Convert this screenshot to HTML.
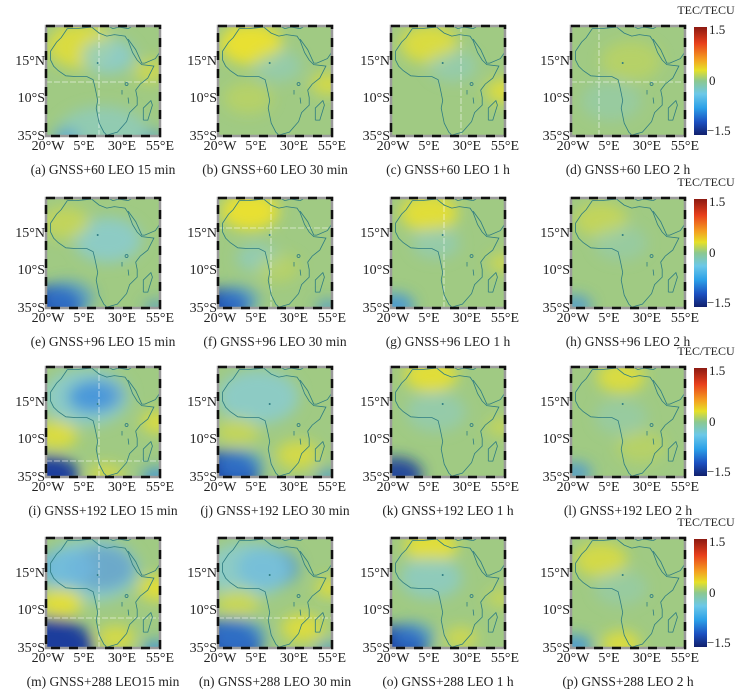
<!DOCTYPE html>
<html><head><meta charset="utf-8"><style>
html,body{margin:0;padding:0;background:#fff;}
svg text{font-family:"Liberation Serif",serif;fill:#222;}
</style></head><body>
<svg id="s" width="752" height="694" xmlns="http://www.w3.org/2000/svg">
<defs>
<linearGradient id="cb" x1="0" y1="0" x2="0" y2="1">
<stop offset="0" stop-color="#8c1a12"/><stop offset="0.15" stop-color="#e8401c"/>
<stop offset="0.3" stop-color="#f4a020"/><stop offset="0.4" stop-color="#e6e028"/>
<stop offset="0.5" stop-color="#8cc890"/><stop offset="0.62" stop-color="#6cc8e8"/>
<stop offset="0.75" stop-color="#2ca0e8"/><stop offset="0.88" stop-color="#1c50c0"/>
<stop offset="1" stop-color="#12206c"/></linearGradient>
<filter id="bl" x="-50%" y="-50%" width="200%" height="200%"><feGaussianBlur stdDeviation="7"/></filter>
</defs>
</svg>
<script>
var s=document.getElementById('s'),NS='http://www.w3.org/2000/svg';
function el(t,a,p,txt){var e=document.createElementNS(NS,t);for(var k in a)e.setAttribute(k,a[k]);if(txt!=null)e.textContent=txt;(p||s).appendChild(e);return e;}
var cols=[46,218,391,571],rows=[26,198,367,538],W=114,H=110;
function P(lon,lat){return ((lon+20)*1.52).toFixed(1)+','+((37.7-lat)*1.5).toFixed(1);}
var afr=[[-6,36],[-10,30],[-13,27],[-17,21],[-17,15],[-15,11],[-12,8],[-7,4.5],[0,4],[7,4],[11,2],[12,-2],[13,-7],[14,-12],[13,-17],[15,-27],[18,-33],[20,-35],[27,-33],[33,-26],[35,-20],[40,-15],[40,-10],[39,-5],[42,-1],[47,3],[51,11],[43,12],[40,15],[37,20],[34,28],[32,31],[25,32],[20,31],[15,33],[10,37],[0,36],[-6,36]];
var arab=[[34,29],[39,22],[43,13],[45,13],[52,16],[56,22]];
var mad=[[44,-25],[44,-17],[49,-12],[50,-15],[47,-25],[44,-25]];
var eur=[[-9,38],[-6,37],[0,38]];
var eur2=[[20,38],[24,36],[28,37],[34,36],[36,37]];
function poly(a){return a.map(function(p){return P(p[0],p[1]);}).join(' ');}
var Y='#e8e030',Y2='#d8dc40',LB='#84cce0',B='#3a8ee0',DB='#1a3c9c';
var blobs=[
[[35,20,28,Y,.8],[105,45,14,Y,.6],[62,30,22,LB,.7],[57,112,40,LB,.5],[20,112,12,B,.5],[108,112,10,B,.5]],
[[33,18,26,Y,1],[110,58,14,Y,.7],[30,72,20,Y2,.4],[60,40,20,LB,.4]],
[[38,18,24,Y,.8],[114,65,16,Y,.8],[62,40,20,LB,.4]],
[[60,35,25,Y2,.4],[40,75,25,LB,.3]],
[[62,42,28,LB,.7],[5,108,26,DB,1],[22,100,22,B,.6],[20,25,20,Y2,.6],[110,110,10,B,.6]],
[[32,13,24,Y,1],[4,108,22,DB,1],[20,102,18,B,.6],[110,110,10,B,.7],[40,60,18,LB,.5],[60,70,18,Y2,.4]],
[[38,15,24,Y,.9],[4,108,16,B,.8],[112,65,12,Y,.6],[45,45,20,LB,.4]],
[[30,22,22,Y2,.6],[4,108,14,B,.7],[50,45,22,LB,.3]],
[[55,28,20,DB,.7],[40,30,36,LB,.7],[45,30,20,B,.7],[4,108,24,DB,1],[110,110,12,B,.8],[10,68,18,Y,.8],[112,55,14,Y,.8],[60,108,15,Y,.6]],
[[40,30,34,LB,.7],[5,108,30,DB,1],[22,98,20,B,.6],[80,88,18,Y,.7],[20,65,18,Y2,.6],[110,110,10,B,.7]],
[[40,8,22,Y,.9],[5,108,22,DB,.9],[45,45,25,LB,.4],[110,60,12,Y2,.6]],
[[50,10,20,Y,.8],[4,106,14,B,.7],[50,50,22,LB,.3],[70,80,20,Y2,.4]],
[[55,30,28,DB,.8],[20,30,24,B,.8],[45,32,40,LB,.7],[5,108,35,DB,1],[110,112,12,B,.8],[15,65,18,Y,.9],[112,50,16,Y,.9],[70,100,16,Y,.7]],
[[50,30,26,B,.7],[30,32,35,LB,.7],[5,108,32,DB,1],[20,98,24,B,.6],[85,90,18,Y,.8],[20,65,18,Y2,.7],[112,50,12,Y,.8],[110,112,10,B,.7]],
[[40,8,22,Y,.9],[5,108,26,DB,1],[22,98,18,B,.6],[40,40,26,LB,.6],[70,100,14,Y,.6],[110,60,12,Y2,.6]],
[[30,22,22,Y,.7],[50,106,16,Y,.8],[4,108,14,B,.8],[50,50,22,LB,.3]]
];
var caps=['(a) GNSS+60 LEO 15 min','(b) GNSS+60 LEO 30 min','(c) GNSS+60 LEO 1 h','(d) GNSS+60 LEO 2 h',
'(e) GNSS+96 LEO 15 min','(f) GNSS+96 LEO 30 min','(g) GNSS+96 LEO 1 h','(h) GNSS+96 LEO 2 h',
'(i) GNSS+192 LEO 15 min','(j) GNSS+192 LEO 30 min','(k) GNSS+192 LEO 1 h','(l) GNSS+192 LEO 2 h',
'(m) GNSS+288 LEO15 min','(n) GNSS+288 LEO 30 min','(o) GNSS+288 LEO 1 h','(p) GNSS+288 LEO 2 h'];
var grid=[[53,56],[0,0],[70,0],[28,56],[0,0],[53,30],[53,0],[0,0],[53,94],[0,0],[0,0],[0,0],[53,80],[0,80],[0,0],[0,0]];
for(var r=0;r<4;r++)for(var c=0;c<4;c++){
 var i=r*4+c,x0=cols[c],y0=rows[r];
 var cp=el('clipPath',{id:'c'+i});el('rect',{x:0,y:0,width:W,height:H},cp);
 var g=el('g',{transform:'translate('+x0+','+y0+')'});
 var gi=el('g',{'clip-path':'url(#c'+i+')'},g);
 el('rect',{x:0,y:0,width:W,height:H,fill:'#98c888'},gi);
 el('rect',{x:0,y:0,width:W,height:H,fill:'#a8cc80',opacity:.55},gi);
 var gb=el('g',{filter:'url(#bl)'},gi);
 blobs[i].forEach(function(b){el('ellipse',{cx:b[0],cy:b[1],rx:b[2]*1.2,ry:b[2]*0.8,fill:b[3],opacity:b[4]},gb);});
 var gr=grid[i];
 if(gr[0])el('line',{x1:gr[0],y1:0,x2:gr[0],y2:H,stroke:'#fff','stroke-width':.8,'stroke-dasharray':'6,2',opacity:.7},gi);
 if(gr[1])el('line',{x1:0,y1:gr[1],x2:W,y2:gr[1],stroke:'#fff','stroke-width':.8,'stroke-dasharray':'6,2',opacity:.7},gi);
 var st={fill:'none',stroke:'#2e7c82','stroke-width':.8};
 [afr,arab,mad,eur,eur2].forEach(function(a){var o=Object.assign({points:poly(a)},st);el('polyline',o,gi);});
 el('line',Object.assign({x1:(30+20)*1.52,y1:(37.7+5)*1.5,x2:(30+20)*1.52,y2:(37.7+8)*1.5},st),gi);
 el('line',Object.assign({x1:(34+20)*1.52,y1:(37.7+10)*1.5,x2:(34.5+20)*1.52,y2:(37.7+14)*1.5},st),gi);
 el('circle',Object.assign({cx:(33+20)*1.52,cy:(37.7+1)*1.5,r:1.5},st),gi);
 el('circle',{cx:(14+20)*1.52,cy:(37.7-13)*1.5,r:1,fill:'#2e7c82'},gi);
 el('rect',{x:0,y:0,width:W,height:H,fill:'none',stroke:'#999','stroke-width':2.5},g);
 el('rect',{x:0,y:0,width:W,height:H,fill:'none',stroke:'#111','stroke-width':2.5,'stroke-dasharray':'9,9'},g);
 var ty=[[34,'15°N'],[71,'10°S'],[109,'35°S']];
 ty.forEach(function(t){el('text',{x:-1,y:t[0]+5,'font-size':14,'text-anchor':'end'},g,t[1]);});
 [[2,'20°W'],[38,'5°E'],[76,'30°E'],[114,'55°E']].forEach(function(t){el('text',{x:t[0],y:H+14,'font-size':14,'text-anchor':'middle'},g,t[1]);});
 el('text',{x:W/2,y:H+38,'font-size':13.5,'text-anchor':'middle'},g,caps[i]);
}
for(var r=0;r<4;r++){var y=rows[r];
 el('rect',{x:694,y:y+1,width:13,height:108,fill:'url(#cb)'});
 el('text',{x:706,y:y-12,'font-size':12,'text-anchor':'middle'},null,'TEC/TECU');
 el('text',{x:709,y:y+8,'font-size':13},null,'1.5');
 el('text',{x:709,y:y+59,'font-size':13},null,'0');
 el('text',{x:707,y:y+109,'font-size':13},null,'\u22121.5');
}
</script>
</body></html>
